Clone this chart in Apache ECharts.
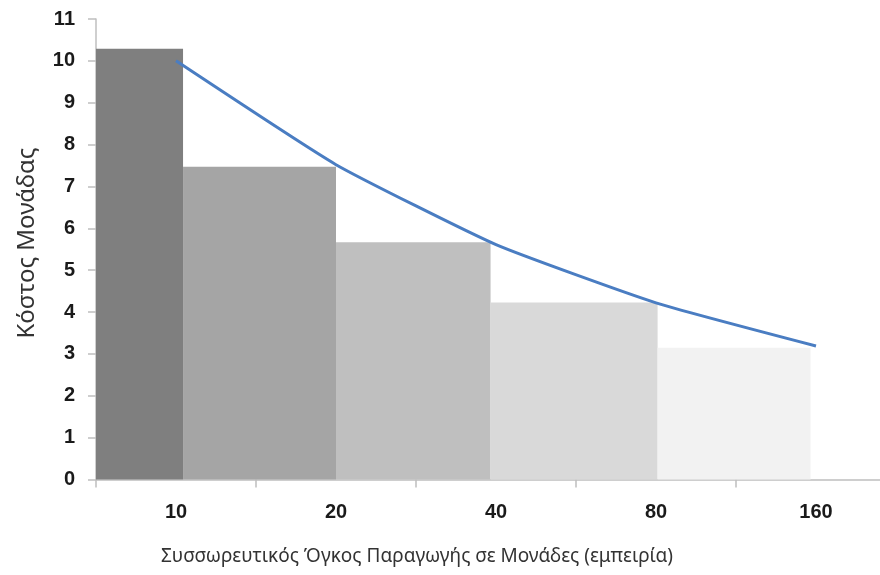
<!DOCTYPE html>
<html>
<head>
<meta charset="utf-8">
<script src="https://cdn.jsdelivr.net/npm/echarts@6/dist/echarts.min.js"></script>
<style>html,body{margin:0;padding:0;background:#fff;overflow:hidden}#c{width:880px;height:575px}</style>
</head>
<body>
<div id="c"></div>
<script>
// Data
const categories = ['10', '20', '40', '80', '160'];
const learningCurve = [10.0, 7.52, 5.61, 4.22, 3.19];
const stepCost = [10.29, 7.47, 5.67, 4.23, 3.15];
const stepStart = [0, 0.544, 1.5, 2.466, 3.51];
const stepEnd = [0.544, 1.5, 2.466, 3.51, 4.466];
const yMin = 0, yMax = 11, yStep = 1;
const xMin = 0, xMax = 4.9; // category slots; the axis runs past the right edge
const xTitle = 'Συσσωρευτικός Όγκος Παραγωγής σε Μονάδες (εμπειρία)';
const yTitle = 'Κόστος Μονάδας';

const barColors = ['#7f7f7f', '#a5a5a5', '#bfbfbf', '#d9d9d9', '#f2f2f2'];
const axisColor = '#bfbfbf';
const labelFont = { fontFamily: 'Liberation Sans', fontWeight: 'bold', fontSize: 20, color: '#1a1a1a' };

const slotCenters = categories.map((c, i) => i + 0.5);
const slotBounds = categories.map((c, i) => i);

const chart = echarts.init(document.getElementById('c'), null, { renderer: 'canvas' });
chart.setOption({
  animation: false,
  backgroundColor: '#ffffff',
  grid: { left: 96, top: 19, right: 0, bottom: 95.5, containLabel: false },
  xAxis: {
    type: 'value',
    min: xMin, max: xMax, interval: 1,
    axisLine: { lineStyle: { color: axisColor, width: 1.5 } },
    axisTick: { show: true, length: 8, customValues: slotBounds, lineStyle: { color: axisColor, width: 1.5 } },
    axisLabel: Object.assign({
      margin: 23,
      customValues: slotCenters,
      formatter: function (v) { return categories[Math.floor(v)]; }
    }, labelFont),
    splitLine: { show: false }
  },
  yAxis: {
    type: 'value',
    min: yMin, max: yMax, interval: yStep,
    axisLine: { show: true, lineStyle: { color: axisColor, width: 1.5 } },
    axisTick: { show: true, length: 8, lineStyle: { color: axisColor, width: 1.5 } },
    axisLabel: Object.assign({ margin: 21 }, labelFont),
    splitLine: { show: false }
  },
  graphic: [
    {
      type: 'text', x: 417, y: 557,
      style: { text: xTitle, textAlign: 'center', textVerticalAlign: 'middle',
               font: '19px "Noto Sans"', fill: '#333333' }
    },
    {
      type: 'text', x: 27, y: 243, rotation: Math.PI / 2,
      style: { text: yTitle, textAlign: 'center', textVerticalAlign: 'middle',
               font: '24px "Noto Sans"', fill: '#333333' }
    }
  ],
  series: [
    {
      type: 'custom',
      data: stepStart.map((s, i) => [s, stepEnd[i], stepCost[i]]),
      encode: { x: [0, 1], y: 2 },
      renderItem: function (params, api) {
        const p0 = api.coord([api.value(0), 0]);
        const p1 = api.coord([api.value(1), api.value(2)]);
        return {
          type: 'rect',
          shape: { x: p0[0], y: p1[1], width: p1[0] - p0[0], height: p0[1] - p1[1] },
          style: { fill: barColors[params.dataIndex] }
        };
      },
      z: 1
    },
    {
      type: 'line',
      data: learningCurve.map((v, i) => [slotCenters[i], v]),
      smooth: 0.15,
      symbol: 'none',
      lineStyle: { color: '#4a7dc2', width: 3 },
      z: 3
    }
  ]
});
</script>
</body>
</html>
